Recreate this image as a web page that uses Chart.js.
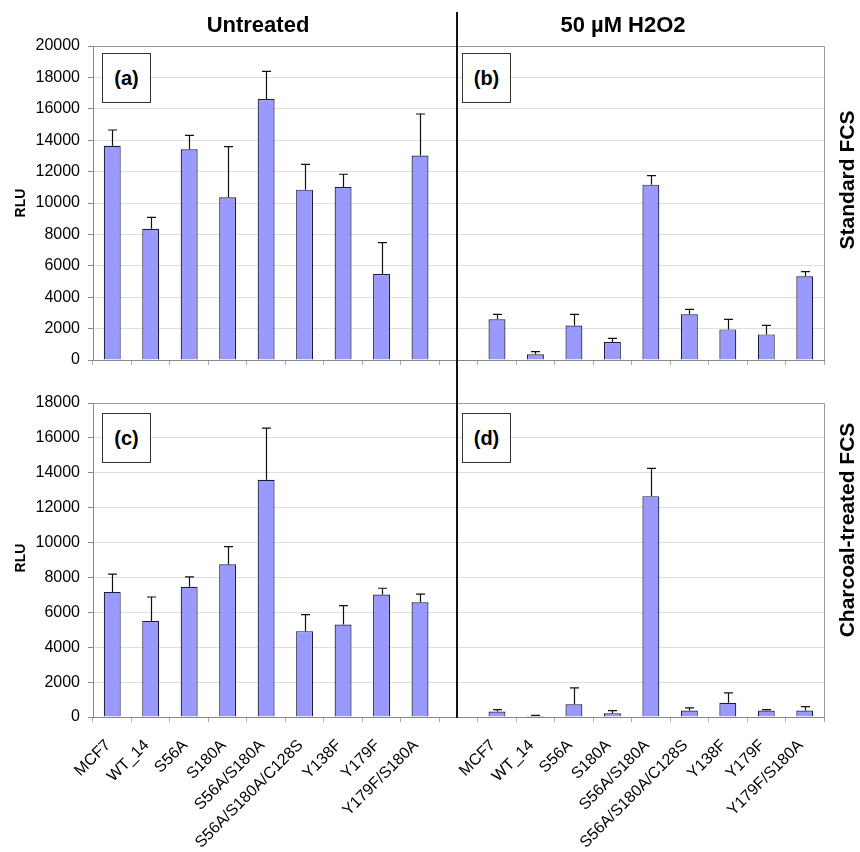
<!DOCTYPE html>
<html>
<head>
<meta charset="utf-8">
<script src="https://cdn.jsdelivr.net/npm/chart.js@4.4.1/dist/chart.umd.min.js"></script>
<style>
    body { margin: 0; background: #fff; }
    #figure { position: relative; width: 860px; height: 852px; font-family: "Liberation Sans", Arial, sans-serif; color: #000; }
    #figure canvas { position: absolute; left: 0; }
    .head { position: absolute; font-weight: bold; font-size: 22px; transform: translate(-50%, -50%); white-space: nowrap; }
    .side { position: absolute; font-weight: bold; font-size: 21px; transform: translate(-50%, -50%) rotate(-90deg); white-space: nowrap; }
    .rlu { position: absolute; font-weight: bold; font-size: 14px; transform: translate(-50%, -50%) rotate(-90deg); }
    .panel { position: absolute; width: 47px; height: 48px; border: 1.5px solid #333; background: #fff;
             font-weight: bold; font-size: 20px; line-height: 48px; text-align: center; }
    #divider { position: absolute; left: 456px; top: 12px; width: 2px; height: 706px; background: #111; }
</style>
</head>
<body>
<div id="figure">
    <canvas id="standardChart" width="860" height="380" style="top:0"></canvas>
    <canvas id="charcoalChart" width="860" height="472" style="top:380px"></canvas>
    <div id="divider"></div>
    <div class="head" style="left:258px; top:25px">Untreated</div>
    <div class="head" style="left:623px; top:25px">50 µM H2O2</div>
    <div class="side" style="left:847px; top:180px">Standard FCS</div>
    <div class="side" style="left:847px; top:530px">Charcoal-treated FCS</div>
    <div class="rlu" style="left:20px; top:203px">RLU</div>
    <div class="rlu" style="left:20px; top:558px">RLU</div>
    <div class="panel" style="left:102px; top:53px">(a)</div>
    <div class="panel" style="left:462px; top:53px">(b)</div>
    <div class="panel" style="left:102px; top:413px">(c)</div>
    <div class="panel" style="left:462px; top:413px">(d)</div>
</div>
<script>
const categories = ["MCF7", "WT_14", "S56A", "S180A", "S56A/S180A", "S56A/S180A/C128S", "Y138F", "Y179F", "Y179F/S180A"];

// Standard FCS (RLU), error = upper SD bar
const untreatedStd = [13650, 8360, 13420, 10360, 16620, 10850, 11020, 5480, 13030];
const untreatedStdErr = [1000, 720, 890, 3230, 1770, 1610, 810, 1990, 2640];
const h2o2Std = [2590, 360, 2190, 1150, 11170, 2910, 1950, 1630, 5330];
const h2o2StdErr = [320, 170, 720, 230, 570, 320, 640, 580, 300];

// Charcoal-treated FCS (RLU)
const untreatedCharcoal = [7170, 5510, 7460, 8760, 13600, 4920, 5300, 7020, 6580];
const untreatedCharcoalErr = [1020, 1370, 570, 1010, 2960, 950, 1090, 360, 460];
const h2o2Charcoal = [310, 60, 730, 210, 12660, 370, 810, 370, 370];
const h2o2CharcoalErr = [110, 30, 940, 160, 1590, 150, 570, 50, 230];

const yTicksStd = { max: 20000, step: 2000 };
const yTicksCharcoal = { max: 18000, step: 2000 };

// one row = untreated, empty gap slot, H2O2
const rowLabels = [...categories, "", ...categories];
const joinRow = (left, right) => [...left, null, ...right];

Chart.defaults.font.family = '"Liberation Sans", Arial, sans-serif';
Chart.defaults.color = "#000";

// upper error bars + top/right frame of the plot area
const errorBars = {
    id: "errorBars",
    beforeDatasetsDraw(chart) {
        const { ctx, chartArea } = chart;
        ctx.save();
        ctx.strokeStyle = "#999";
        ctx.lineWidth = 1;
        ctx.beginPath();
        ctx.moveTo(chartArea.left, chartArea.top + 0.5);
        ctx.lineTo(chartArea.right + 0.5, chartArea.top + 0.5);
        ctx.lineTo(chartArea.right + 0.5, chartArea.bottom);
        ctx.stroke();
        ctx.restore();
    },
    afterDatasetsDraw(chart) {
        const { ctx } = chart;
        const yScale = chart.scales.y;
        chart.data.datasets.forEach((ds, di) => {
            const meta = chart.getDatasetMeta(di);
            ctx.save();
            ctx.strokeStyle = "#111";
            ctx.lineWidth = 1.2;
            meta.data.forEach((bar, i) => {
                if (ds.data[i] == null || ds.errors[i] == null) return;
                const x = Math.round(bar.x) + 0.5;
                const yTop = yScale.getPixelForValue(ds.data[i]);
                const yErr = yScale.getPixelForValue(ds.data[i] + ds.errors[i]);
                ctx.beginPath();
                ctx.moveTo(x, yTop);
                ctx.lineTo(x, yErr);
                ctx.moveTo(x - 4.5, yErr);
                ctx.lineTo(x + 4.5, yErr);
                ctx.stroke();
            });
            ctx.restore();
        });
    },
};

function buildRow(canvasId, values, errors, yTicks, opts) {
    const ctx = document.getElementById(canvasId).getContext("2d");
    return new Chart(ctx, {
        type: "bar",
        data: {
            labels: rowLabels,
            datasets: [
                {
                    data: values,
                    errors: errors,
                    backgroundColor: "#9999ff",
                    borderColor: "#1c1c3a",
                    borderWidth: 1.2,
                    barPercentage: 0.44,
                    categoryPercentage: 1,
                },
            ],
        },
        options: {
            responsive: false,
            animation: false,
            devicePixelRatio: 1,
            layout: { padding: { top: opts.top, right: 36, left: 0, bottom: 0 } },
            plugins: { legend: { display: false }, tooltip: { enabled: false } },
            scales: {
                x: {
                    offset: true,
                    border: { color: "#888", width: 1 },
                    grid: { drawOnChartArea: false, drawTicks: true, tickLength: 5, color: "#aaa", offset: true },
                    ticks: {
                        display: opts.showLabels,
                        autoSkip: false,
                        maxRotation: 45,
                        minRotation: 45,
                        padding: 14,
                        labelOffset: -4,
                        font: { size: 16 },
                    },
                    afterFit(scale) {
                        scale.height = opts.xHeight;
                    },
                },
                y: {
                    min: 0,
                    max: yTicks.max,
                    border: { color: "#888", width: 1 },
                    grid: { color: "#dedede", tickColor: "#888", tickLength: 5 },
                    ticks: {
                        stepSize: yTicks.step,
                        padding: 8,
                        font: { size: 16 },
                        callback: (value) => String(value),
                    },
                    afterFit(scale) {
                        scale.width = 93;
                    },
                },
            },
        },
        plugins: [errorBars],
    });
}

document.addEventListener("DOMContentLoaded", () => {
    buildRow("standardChart", joinRow(untreatedStd, h2o2Std), joinRow(untreatedStdErr, h2o2StdErr), yTicksStd,
        { top: 46, xHeight: 20, showLabels: false });
    buildRow("charcoalChart", joinRow(untreatedCharcoal, h2o2Charcoal), joinRow(untreatedCharcoalErr, h2o2CharcoalErr), yTicksCharcoal,
        { top: 23, xHeight: 135, showLabels: true });
});
</script>
</body>
</html>
